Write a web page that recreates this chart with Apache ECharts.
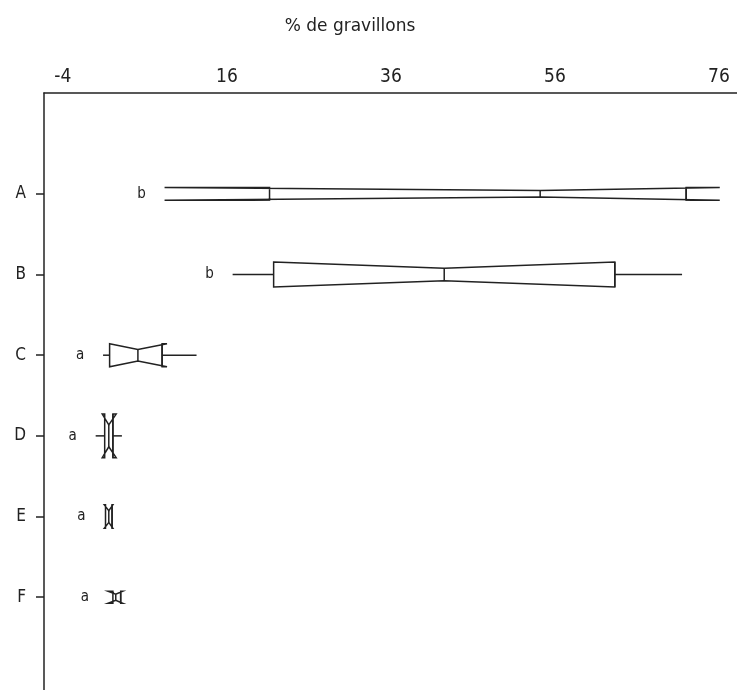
<!DOCTYPE html>
<html>
<head>
<meta charset="utf-8">
<script src="https://cdn.jsdelivr.net/npm/echarts@6/dist/echarts.min.js"></script>
<style>
  html, body { margin: 0; padding: 0; background: #fff; }
  #chart { width: 737px; height: 690px; }
</style>
</head>
<body>
<div id="chart"></div>
<script>
// groupes et lettres de comparaison
var groups = ['A', 'B', 'C', 'D', 'E', 'F'];
var letters = ['b', 'b', 'a', 'a', 'a', 'a'];

// boites a encoches (% de gravillons)
var whiskerLow  = [21.2, 16.7, 0.9, 0.0, 1.2, 2.1];
var q1          = [21.2, 21.7, 1.7, 1.1, 1.2, 2.1];
var notchLow    = [8.4, 21.7, 1.7, 0.8, 1.05, 1.5];
var median      = [54.2, 42.5, 5.15, 1.6, 1.6, 2.45];
var notchHigh   = [76.1, 63.3, 8.7, 2.5, 2.1, 3.3];
var q3          = [72.0, 63.3, 8.1, 2.1, 2.0, 3.05];
var whiskerHigh = [72.0, 71.5, 12.3, 3.2, 2.0, 3.05];
// largeur relative des boites (effectifs)
var boxHalf = [0.08, 0.155, 0.143, 0.27, 0.145, 0.075];

var xTicks = [-4, 16, 36, 56, 76];

var myChart = echarts.init(document.getElementById('chart'));

var lineColor = '#222';
var fontFam = '"Liberation Sans Narrow", "DejaVu Sans Condensed", "Liberation Sans", sans-serif';

function renderBox(params, api) {
  var i = params.dataIndex;
  var yc = i + 1;
  var h = boxHalf[i];
  var P = function (v, dy) { return api.coord([v, yc + dy]); };
  var stroke = { stroke: lineColor, lineWidth: 1.5, fill: null };

  var pts = [
    P(q1[i], -h), P(notchLow[i], -h), P(median[i], -h / 2), P(notchHigh[i], -h), P(q3[i], -h),
    P(q3[i], h), P(notchHigh[i], h), P(median[i], h / 2), P(notchLow[i], h), P(q1[i], h)
  ];
  var left = Math.min(whiskerLow[i], q1[i], notchLow[i]);
  var lp = P(left, 0);

  var children = [
    { type: 'polygon', shape: { points: pts }, style: stroke },
    { type: 'line', shape: { x1: P(median[i], -h / 2)[0], y1: P(median[i], -h / 2)[1], x2: P(median[i], h / 2)[0], y2: P(median[i], h / 2)[1] }, style: stroke },
    { type: 'line', shape: { x1: P(q3[i], -h)[0], y1: P(q3[i], -h)[1], x2: P(q3[i], h)[0], y2: P(q3[i], h)[1] }, style: stroke }
  ];
  if (whiskerLow[i] < q1[i]) {
    children.push({ type: 'line', shape: { x1: P(whiskerLow[i], 0)[0], y1: lp[1], x2: P(q1[i], 0)[0], y2: lp[1] }, style: stroke });
  }
  if (whiskerHigh[i] > q3[i]) {
    children.push({ type: 'line', shape: { x1: P(q3[i], 0)[0], y1: lp[1], x2: P(whiskerHigh[i], 0)[0], y2: lp[1] }, style: stroke });
  }
  children.push({
    type: 'text',
    x: lp[0] - 23,
    y: lp[1],
    style: { text: letters[i], align: 'center', verticalAlign: 'middle', fontSize: 15, fontFamily: fontFam, fill: lineColor }
  });
  return { type: 'group', children: children };
}

myChart.setOption({
  animation: false,
  backgroundColor: '#fff',
  grid: { left: 44, right: 0, top: 93, bottom: 0 },
  graphic: [{
    type: 'text',
    x: 350,
    y: 27,
    style: { text: '% de gravillons', align: 'center', verticalAlign: 'middle', fontSize: 17, fontFamily: '"DejaVu Sans", sans-serif', fill: '#222' }
  }],
  xAxis: {
    type: 'value',
    position: 'top',
    min: -6.3,
    max: 78.2,
    splitLine: { show: false },
    axisTick: { show: false },
    axisLine: { show: true, onZero: false, lineStyle: { color: lineColor, width: 1.5 } },
    axisLabel: {
      customValues: xTicks,
      margin: 6,
      fontSize: 19,
      fontFamily: fontFam,
      color: lineColor
    }
  },
  yAxis: {
    type: 'value',
    inverse: true,
    min: -0.25,
    max: 7.15,
    splitLine: { show: false },
    axisLine: { show: true, onZero: false, lineStyle: { color: lineColor, width: 1.5 } },
    axisTick: { show: true, customValues: [1, 2, 3, 4, 5, 6], length: 8, lineStyle: { color: lineColor, width: 1.5 } },
    axisLabel: {
      customValues: [1, 2, 3, 4, 5, 6],
      margin: 18,
      fontSize: 17,
      fontFamily: fontFam,
      color: lineColor,
      formatter: function (v) { return groups[Math.round(v) - 1]; }
    }
  },
  series: [{
    type: 'custom',
    clip: false,
    renderItem: renderBox,
    encode: { x: 0, y: 1 },
    data: groups.map(function (g, i) { return [median[i], i + 1]; })
  }]
});
</script>
</body>
</html>
